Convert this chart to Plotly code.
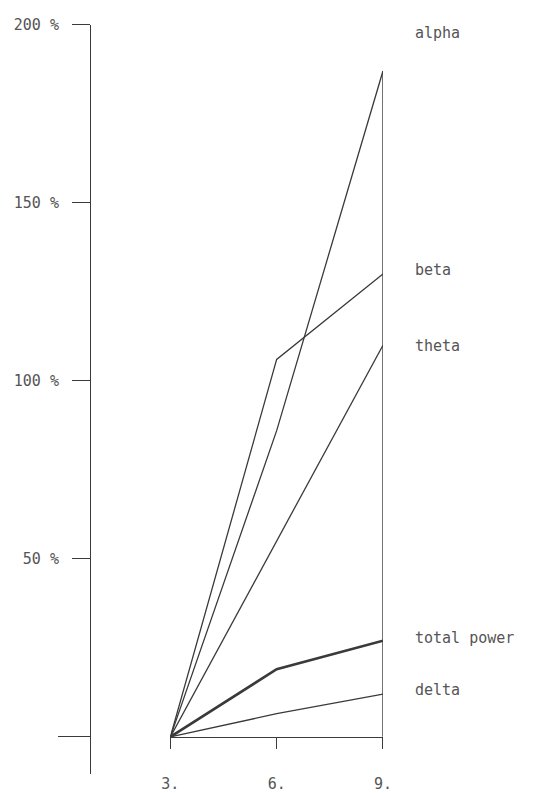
import plotly.graph_objects as go

# ---- data ----
months = [3, 6, 9]
month_labels = ["3.", "6.", "9."]
alpha = [0, 86, 187]
beta = [0, 106, 130]
theta = [0, 55, 110]
total_power = [0, 19, 27]
delta = [0, 6.5, 12]

y_ticks = [50, 100, 150, 200]
y_ticktext = ["50 %", "100 %", "150 %", "200 %"]

series = [
    ("alpha", alpha, 1.3, 38),
    ("beta", beta, 1.3, 4),
    ("theta", theta, 1.3, -1),
    ("total power", total_power, 2.6, 3),
    ("delta", delta, 1.3, 4),
]

W, H = 534, 793
def fx(px):
    return px / W
def fy(py):
    return 1 - py / H

LINE = "#3a3a3a"
TXT = "#555555"
FONT = "DejaVu Sans Mono"

fig = go.Figure()
for name, vals, w, _ in series:
    fig.add_trace(go.Scatter(x=months, y=vals, mode="lines",
                             line=dict(color=LINE, width=w),
                             showlegend=False, hoverinfo="skip"))

# vertical line at last month up to alpha's end
fig.add_shape(type="line", xref="x", yref="y",
              x0=months[-1], x1=months[-1], y0=0, y1=alpha[-1],
              line=dict(color=LINE, width=1.4))

for name, vals, w, ysh in series:
    fig.add_annotation(x=months[-1], y=vals[-1], xref="x", yref="y",
                       text=name, showarrow=False, xanchor="left",
                       xshift=30, yshift=ysh,
                       font=dict(family=FONT, size=15, color=TXT))

y_range = [-10.5, 200]
fig.update_layout(
    width=W, height=H,
    margin=dict(l=0, r=0, t=0, b=0),
    paper_bgcolor="white", plot_bgcolor="white",
    xaxis=dict(domain=[fx(167), fx(387)], range=[3, 9],
               anchor="free", position=fy(740),
               showgrid=False, zeroline=False,
               showline=True, linecolor=LINE, linewidth=1.4,
               ticks="outside", ticklen=11, tickwidth=1.4, tickcolor=LINE,
               tickvals=months, ticktext=month_labels,
               ticklabelstandoff=22,
               tickfont=dict(family=FONT, size=15, color=TXT)),
    yaxis=dict(domain=[fy(778), fy(16)], range=y_range,
               anchor="free", position=fx(84),
               showgrid=False, zeroline=False,
               showline=True, linecolor=LINE, linewidth=1.4,
               ticks="outside", ticklen=18, tickwidth=1.4, tickcolor=LINE,
               tickvals=y_ticks, ticktext=y_ticktext,
               ticklabelstandoff=10,
               tickfont=dict(family=FONT, size=15, color=TXT)),
    yaxis2=dict(domain=[fy(778), fy(16)], range=y_range,
                overlaying="y", anchor="free", position=fx(84),
                showgrid=False, zeroline=False, showline=False,
                ticks="outside", ticklen=32, tickwidth=1.4, tickcolor=LINE,
                tickvals=[0], showticklabels=False),
)
# dummy trace to activate yaxis2
fig.add_trace(go.Scatter(x=[months[0]], y=[0], yaxis="y2", mode="markers",
                         marker=dict(opacity=0), showlegend=False, hoverinfo="skip"))

fig.write_html("out.html")
